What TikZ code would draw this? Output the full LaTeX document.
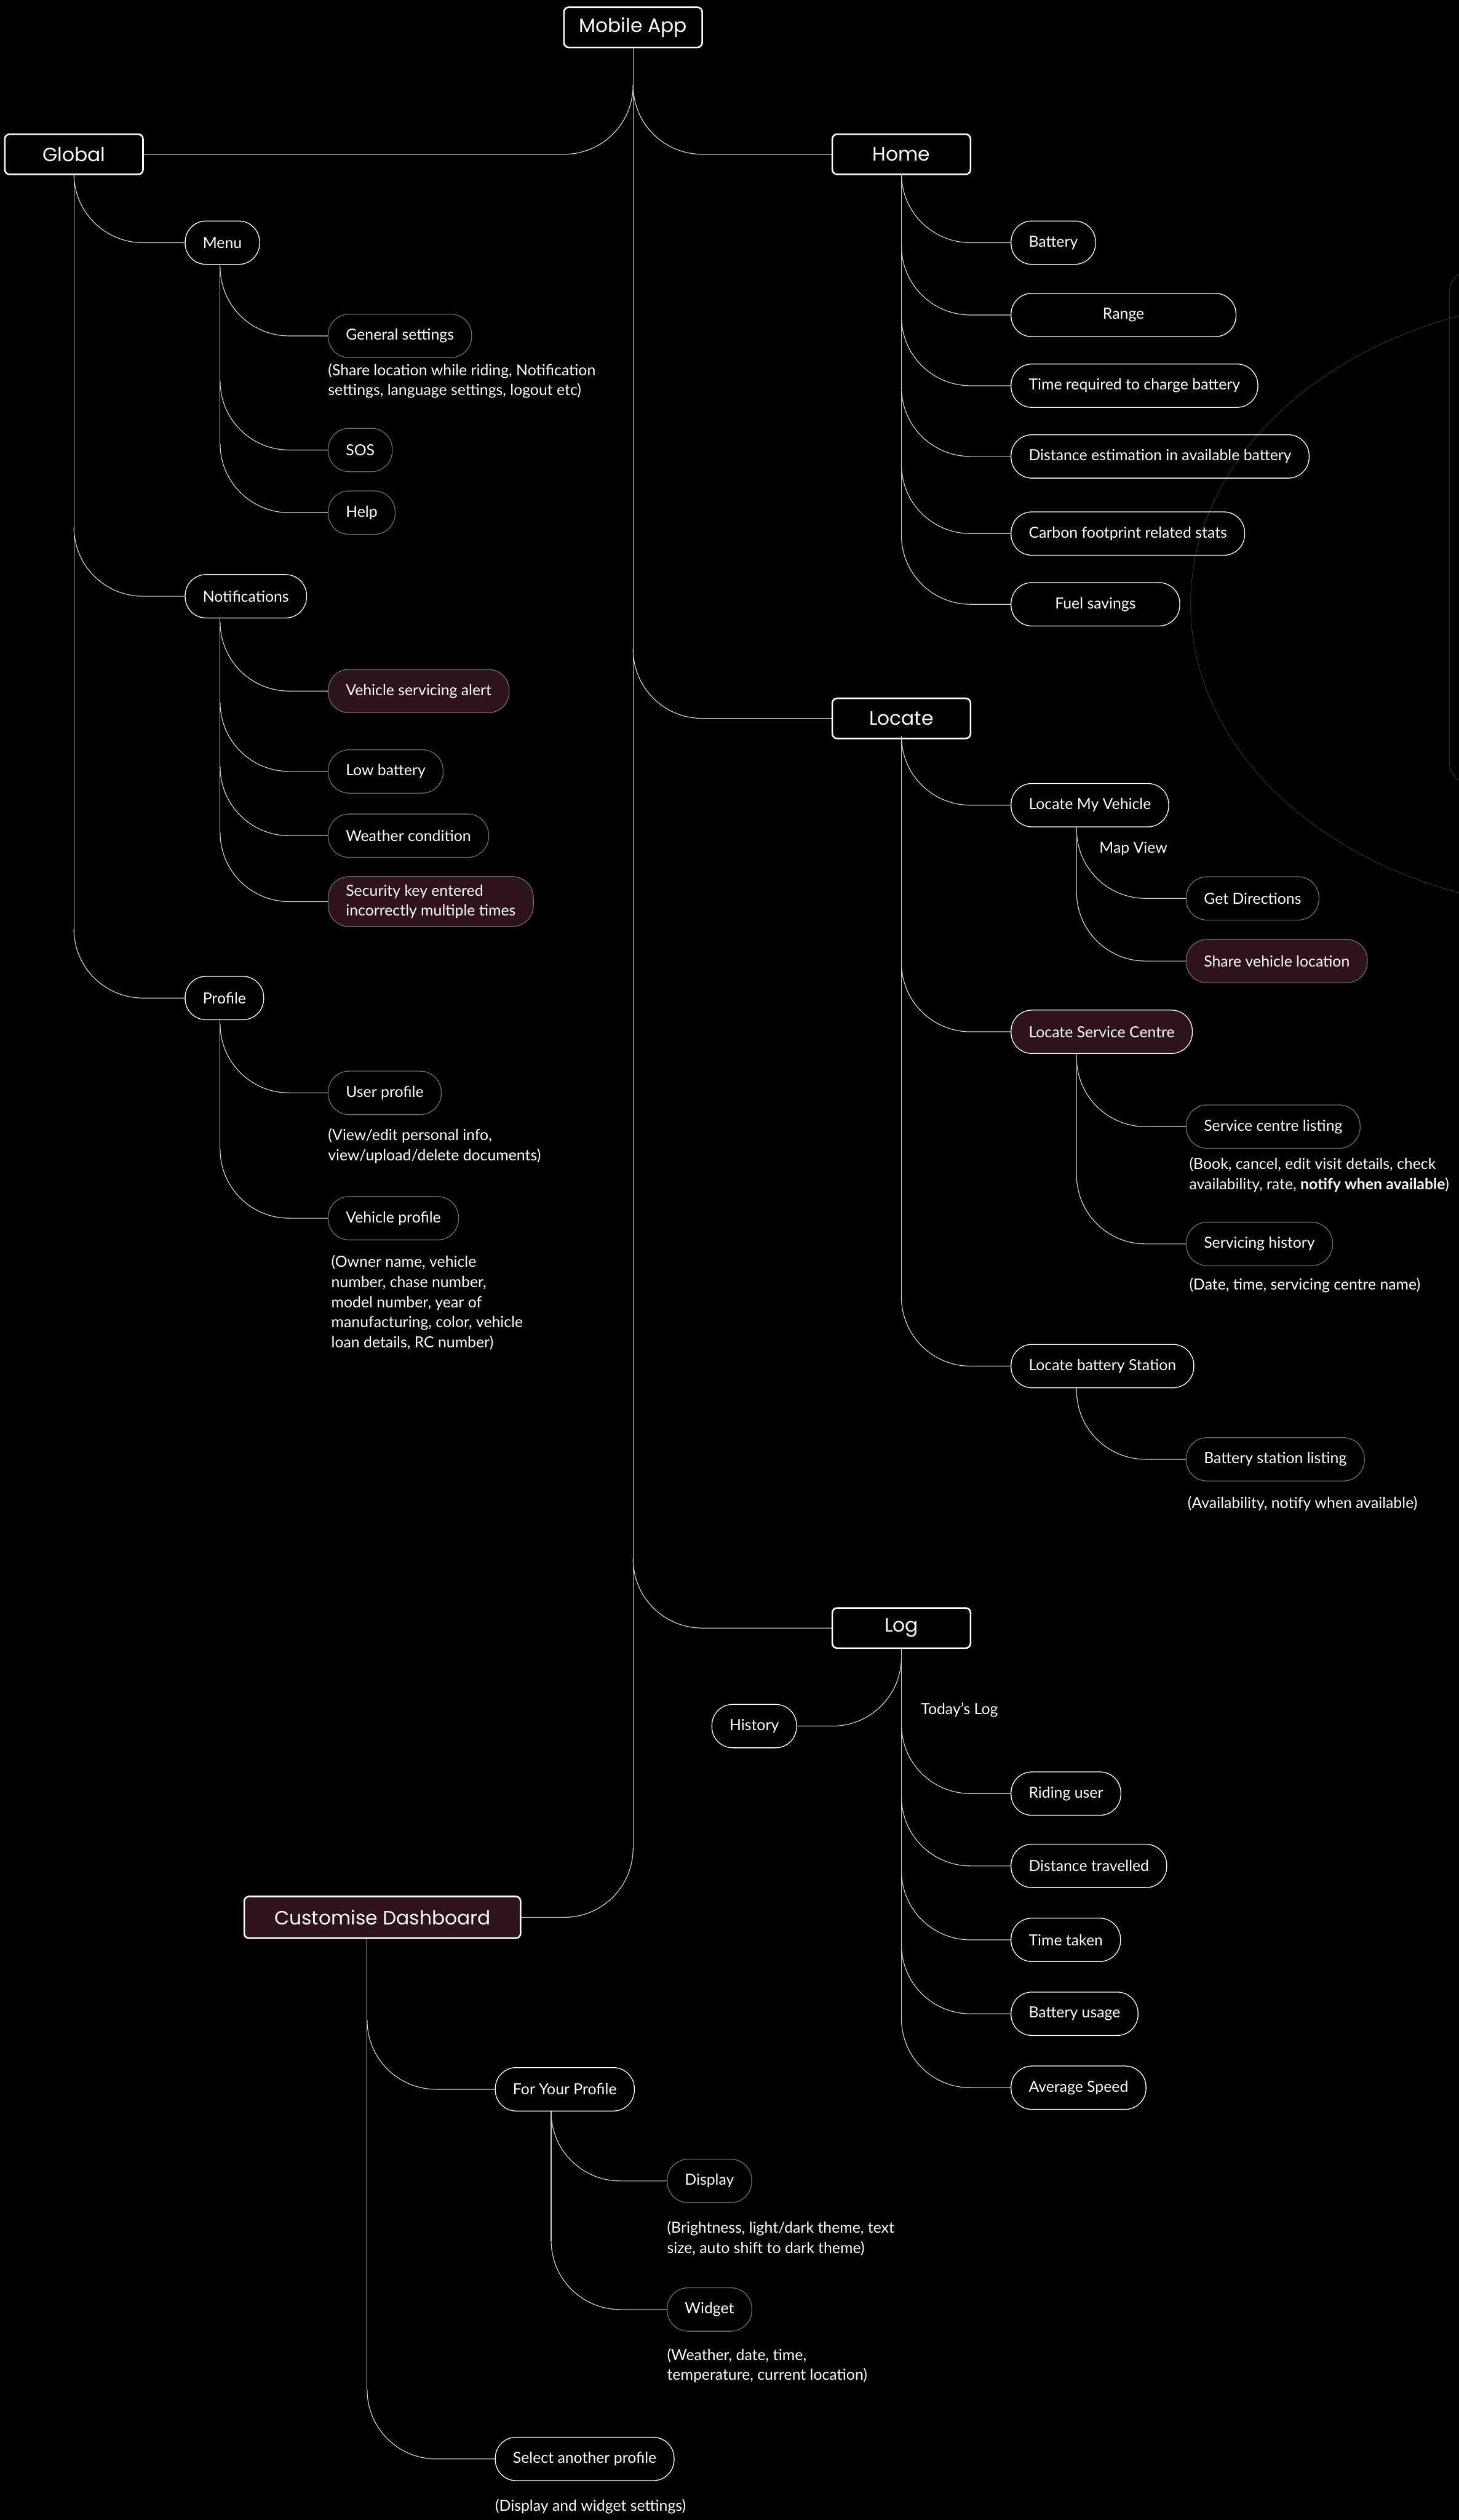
\documentclass[tikz,border=0pt]{standalone}
\usepackage{fontspec}
\setmainfont{Lato}
\newfontfamily\headfont{Poppins}

\definecolor{wine}{RGB}{47,19,27}
\definecolor{rim}{RGB}{105,105,105}
\definecolor{faint}{RGB}{44,44,44}

\tikzset{
  head/.style={draw=white, line width=1pt, rounded corners=3pt, minimum width=86pt, minimum height=25pt, inner xsep=8pt, text=white, font=\headfont\fontsize{12}{14}\selectfont},
  pill/.style={draw=white, line width=0.5pt, rounded corners=13pt, minimum height=27pt, inner xsep=11pt, inner ysep=5pt, align=left, text=white, font=\fontsize{9.5}{12.5}\selectfont},
  subpill/.style={pill, draw=rim},
  hot/.style={fill=wine},
  note/.style={anchor=north west, inner sep=0pt, align=left, text=white, font=\fontsize{9.5}{12.5}\selectfont},
  link/.style={draw=white!82!black, line width=0.45pt},
}

\newcommand{\twig}[2]{\draw[link] ([yshift=43pt]#1 |- #2.west) to[out=-90, in=180] ([xshift=43pt]#1 |- #2.west) -- (#2.west);}
\newcommand{\twigl}[2]{\draw[link] ([yshift=43pt]#1 |- #2.east) to[out=-90, in=0] ([xshift=-43pt]#1 |- #2.east) -- (#2.east);}

\begin{document}
\begin{tikzpicture}[x=1pt, y=-1pt]
  \useasboundingbox (0,0) rectangle (908,1568);
  \fill[black] (0,0) rectangle (908,1568);
  \draw[faint] (990,376) ellipse [x radius=249pt, y radius=190pt];
  \draw[faint, rounded corners=14pt] (902,168) rectangle (1000,488);

  \node[head] (app) at (394,17) {Mobile App};
  \node[head] (gl) at (46,96) {Global};
  \node[head] (hm) at (561,96) {Home};
  \node[head] (lc) at (561,447) {Locate};
  \node[head] (lg) at (561,1013) {Log};
  \node[head, hot, minimum width=172pt, minimum height=26pt] (cd) at (238,1193) {Customise Dashboard};

  \node[pill, anchor=west] (mn) at (115,151) {Menu};
  \node[pill, anchor=west] (nt) at (115,371) {Notifications};
  \node[pill, anchor=west] (pf) at (115,621) {Profile};

  \node[subpill, anchor=west] (gs) at (204,209) {General settings};
  \node[subpill, anchor=west] (sos) at (204,280) {SOS};
  \node[subpill, anchor=west] (hlp) at (204,319) {Help};
  \node[note] (gsn) at (204,226) {(Share location while riding, Notification\\settings, language settings, logout etc)};

  \node[subpill, hot, anchor=west] (vsa) at (204,430) {Vehicle servicing alert};
  \node[subpill, anchor=west] (lb) at (204,480) {Low battery};
  \node[subpill, anchor=west] (wc) at (204,520) {Weather condition};
  \node[subpill, hot, anchor=west] (sk) at (204,561) {Security key entered\\incorrectly multiple times};

  \node[subpill, anchor=west] (up) at (204,680) {User profile};
  \node[note] (upn) at (204,702) {(View/edit personal info,\\view/upload/delete documents)};
  \node[subpill, anchor=west] (vp) at (204,758) {Vehicle profile};
  \node[note] (vpn) at (206,781) {(Owner name, vehicle\\number, chase number,\\model number, year of\\manufacturing, color, vehicle\\loan details, RC number)};

  \node[pill, anchor=west] (bat) at (629,151) {Battery};
  \node[pill, anchor=west, minimum width=140pt] (rng) at (629,196) {Range};
  \node[pill, anchor=west] (trq) at (629,240) {Time required to charge battery};
  \node[pill, anchor=west] (dst) at (629,284) {Distance estimation in available battery};
  \node[pill, anchor=west] (cfp) at (629,332) {Carbon footprint related stats};
  \node[pill, anchor=west, minimum width=105pt] (fs) at (629,376) {Fuel savings};

  \node[pill, anchor=west] (lmv) at (629,501) {Locate My Vehicle};
  \node[pill, hot, anchor=west] (lsc) at (629,642) {Locate Service Centre};
  \node[pill, anchor=west] (lbs) at (629,850) {Locate battery Station};

  \node[note, anchor=west] (mapv) at (684,528) {Map View};
  \node[subpill, anchor=west] (gd) at (738,559) {Get Directions};
  \node[subpill, hot, anchor=west] (svl) at (738,598) {Share vehicle location};

  \node[subpill, anchor=west] (scl) at (738,701) {Service centre listing};
  \node[note] (scln) at (740,720) {(Book, cancel, edit visit details, check\\availability, rate, \textbf{notify when available})};
  \node[subpill, anchor=west] (sh) at (738,774) {Servicing history};
  \node[note] (shn) at (740,795) {(Date, time, servicing centre name)};

  \node[subpill, anchor=west] (bsl) at (738,908) {Battery station listing};
  \node[note] (bsln) at (739,931) {(Availability, notify when available)};

  \node[pill, anchor=east] (hs) at (496,1074) {History};
  \node[note, anchor=west] (today) at (573,1064) {Today’s Log};
  \node[pill, anchor=west] (ru) at (629,1116) {Riding user};
  \node[pill, anchor=west] (dt) at (629,1161) {Distance travelled};
  \node[pill, anchor=west] (tt) at (629,1207) {Time taken};
  \node[pill, anchor=west] (bu) at (629,1253) {Battery usage};
  \node[pill, anchor=west] (avs) at (629,1299) {Average Speed};

  \node[pill, anchor=west] (fyp) at (308,1300) {For Your Profile};
  \node[pill, anchor=west] (sap) at (308,1530) {Select another profile};
  \node[note] (sapn) at (308,1555) {(Display and widget settings)};

  \node[subpill, anchor=west] (dsp) at (415,1357) {Display};
  \node[note] (dspn) at (415,1382) {(Brightness, light/dark theme, text\\size, auto shift to dark theme)};
  \node[subpill, anchor=west] (wdg) at (415,1437) {Widget};
  \node[note] (wdgn) at (415,1461) {(Weather, date, time,\\temperature, current location)};

  \coordinate (trunk) at (app.south);
  \coordinate (glv) at (gl.south);
  \coordinate (mnv) at ([xshift=22pt]mn.south west);
  \coordinate (ntv) at ([xshift=22pt]nt.south west);
  \coordinate (pfv) at ([xshift=22pt]pf.south west);
  \coordinate (hmv) at (hm.south);
  \coordinate (lcv) at (lc.south);
  \coordinate (lmvv) at ([xshift=41pt]lmv.south west);
  \coordinate (lscv) at ([xshift=41pt]lsc.south west);
  \coordinate (lbsv) at ([xshift=41pt]lbs.south west);
  \coordinate (lgv) at (lg.south);
  \coordinate (cdv) at ([xshift=77pt]cd.south west);
  \coordinate (fypv) at ([xshift=35pt]fyp.south west);

  \draw[link] (trunk) -- ([yshift=43pt]trunk |- cd.east);
  \draw[link] (glv) -- ([yshift=43pt]glv |- pf.west);
  \draw[link] (mnv) -- ([yshift=43pt]mnv |- hlp.west);
  \draw[link] (ntv) -- ([yshift=43pt]ntv |- sk.west);
  \draw[link] (pfv) -- ([yshift=43pt]pfv |- vp.west);
  \draw[link] (hmv) -- ([yshift=43pt]hmv |- fs.west);
  \draw[link] (lcv) -- ([yshift=43pt]lcv |- lbs.west);
  \draw[link] (lmvv) -- ([yshift=43pt]lmvv |- svl.west);
  \draw[link] (lscv) -- ([yshift=43pt]lscv |- sh.west);
  \draw[link] (lbsv) -- ([yshift=43pt]lbsv |- bsl.west);
  \draw[link] (lgv) -- ([yshift=43pt]lgv |- avs.west);
  \draw[link] (cdv) -- ([yshift=43pt]cdv |- sap.west);
  \draw[link] (fypv) -- ([yshift=43pt]fypv |- wdg.west);

  \twigl{trunk}{gl}
  \twig{trunk}{hm}
  \twig{trunk}{lc}
  \twig{trunk}{lg}
  \twigl{trunk}{cd}
  \foreach \c in {mn,nt,pf} {\twig{glv}{\c}}
  \foreach \c in {gs,sos,hlp} {\twig{mnv}{\c}}
  \foreach \c in {vsa,lb,wc,sk} {\twig{ntv}{\c}}
  \foreach \c in {up,vp} {\twig{pfv}{\c}}
  \foreach \c in {bat,rng,trq,dst,cfp,fs} {\twig{hmv}{\c}}
  \foreach \c in {lmv,lsc,lbs} {\twig{lcv}{\c}}
  \foreach \c in {gd,svl} {\twig{lmvv}{\c}}
  \foreach \c in {scl,sh} {\twig{lscv}{\c}}
  \twig{lbsv}{bsl}
  \twigl{lgv}{hs}
  \foreach \c in {ru,dt,tt,bu,avs} {\twig{lgv}{\c}}
  \foreach \c in {fyp,sap} {\twig{cdv}{\c}}
  \foreach \c in {dsp,wdg} {\twig{fypv}{\c}}
\end{tikzpicture}
\end{document}
